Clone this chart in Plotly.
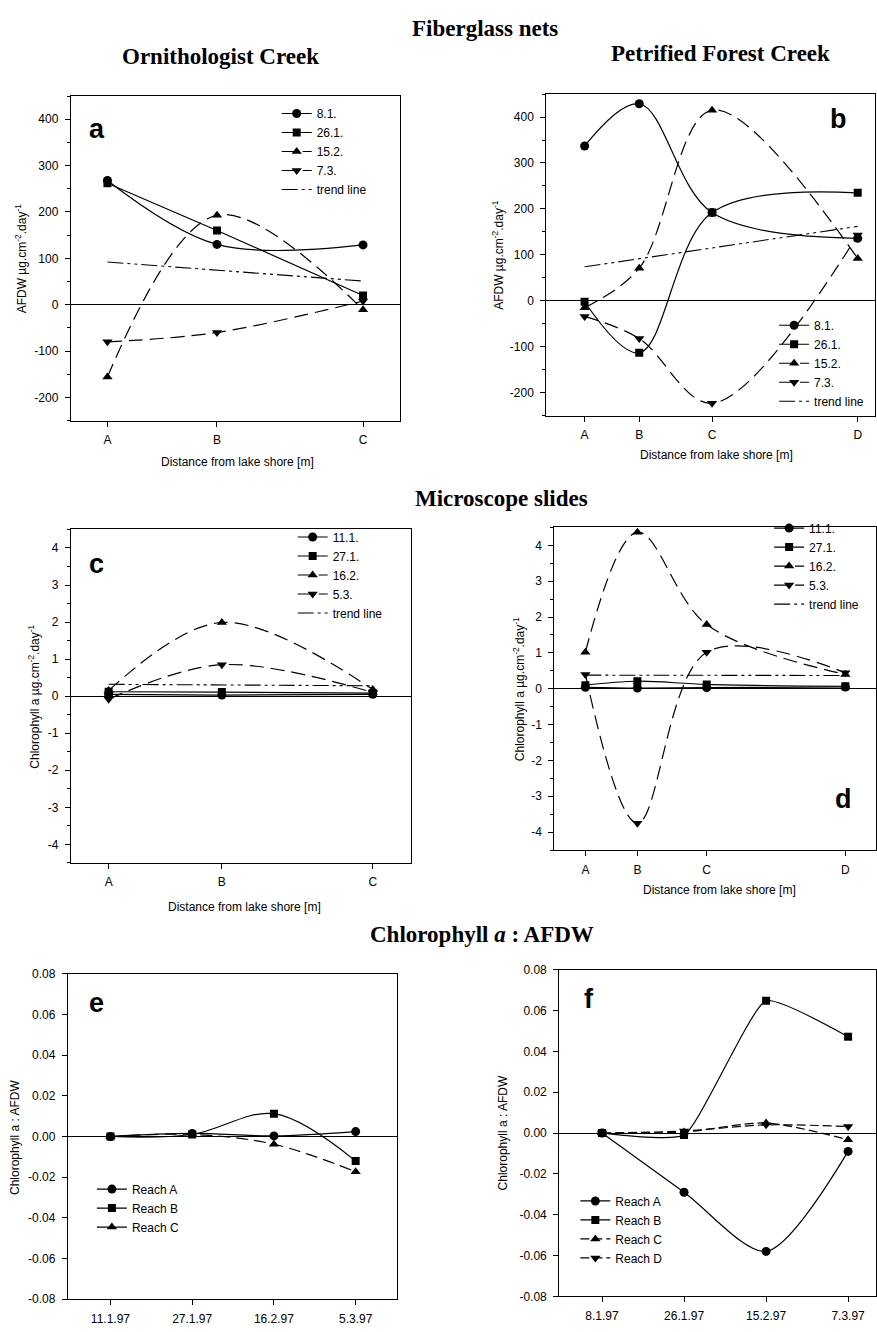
import plotly.graph_objects as go

# ---------------- data ----------------
ornith_sites = ["A", "B", "C"]
ornith_dist = [1, 4, 8]
petrif_sites = ["A", "B", "C", "D"]
petrif_dist = [1, 4, 8, 16]

afdw_dates = ["8.1.", "26.1.", "15.2.", "7.3."]
afdw_ornith_8_1 = [268, 130, 129]
afdw_ornith_26_1 = [262, 160, 20]
afdw_ornith_15_2 = [-156, 193, -11]
afdw_ornith_7_3 = [-80, -60, 8]
afdw_ornith_trend = [92, 51]

afdw_petrif_8_1 = [337, 429, 192, 136]
afdw_petrif_26_1 = [-2, -113, 192, 235]
afdw_petrif_15_2 = [-15, 71, 415, 92]
afdw_petrif_7_3 = [-34, -82, -223, 143]
afdw_petrif_trend = [74, 162]

chl_dates = ["11.1.", "27.1.", "16.2.", "5.3."]
chl_ornith_11_1 = [0.05, 0.03, 0.05]
chl_ornith_27_1 = [0.12, 0.11, 0.08]
chl_ornith_16_2 = [0.15, 1.99, 0.18]
chl_ornith_5_3 = [-0.08, 0.85, 0.10]
chl_ornith_trend = [0.32, 0.28]

chl_petrif_11_1 = [0.04, 0.02, 0.03, 0.05]
chl_petrif_27_1 = [0.10, 0.21, 0.12, 0.07]
chl_petrif_16_2 = [1.02, 4.37, 1.79, 0.40]
chl_petrif_5_3 = [0.40, -3.75, 1.02, 0.45]
chl_petrif_trend = [0.38, 0.37]

ratio_ornith_dates = ["11.1.97", "27.1.97", "16.2.97", "5.3.97"]
ratio_ornith_reach_a = [0.000, 0.0015, 0.0003, 0.0024]
ratio_ornith_reach_b = [0.000, 0.0010, 0.0112, -0.0121]
ratio_ornith_reach_c = [0.000, 0.0010, -0.0038, -0.0173]

ratio_petrif_dates = ["8.1.97", "26.1.97", "15.2.97", "7.3.97"]
ratio_petrif_reach_a = [0.000, -0.029, -0.058, -0.009]
ratio_petrif_reach_b = [0.000, -0.001, 0.0648, 0.0472]
ratio_petrif_reach_c = [0.000, 0.0005, 0.0049, -0.0033]
ratio_petrif_reach_d = [0.000, 0.0010, 0.0040, 0.0032]

afdw_ticks = [-200, -100, 0, 100, 200, 300, 400]
chl_ticks = [-4, -3, -2, -1, 0, 1, 2, 3, 4]
ratio_ticks = [-0.08, -0.06, -0.04, -0.02, 0.0, 0.02, 0.04, 0.06, 0.08]

# ---------------- styling ----------------
W, H = 877, 1332
SANS = "Liberation Sans, Arial, sans-serif"
SERIF = "Liberation Serif, Times New Roman, serif"
SOLID = "solid"
LONGDASH = "14px,7px"
MEDDASH = "9px,4px"
TREND = "16px,4px,3px,4px,3px,4px"

def px(x):
    return x / W

def py(y):
    return 1 - y / H

fig = go.Figure()

def add_line(ax, x, y, name, symbol, dash, legend, size=8, smooth=1.0):
    fig.add_trace(go.Scatter(
        x=x, y=y, name=name, mode="lines+markers",
        line=dict(color="black", width=1.2, shape="spline", smoothing=smooth, dash=dash),
        marker=dict(symbol=symbol, size=size, color="black"),
        xaxis="x" + ax, yaxis="y" + ax, legend=legend,
    ))

def add_trend(ax, dist, vals, legend):
    fig.add_trace(go.Scatter(
        x=[dist[0], dist[-1]], y=vals, name="trend line", mode="lines",
        line=dict(color="black", width=1.1, dash=TREND),
        xaxis="x" + ax, yaxis="y" + ax, legend=legend,
    ))

# panel a
add_line("", ornith_dist, afdw_ornith_8_1, afdw_dates[0], "circle", SOLID, "legend", 9)
add_line("", ornith_dist, afdw_ornith_26_1, afdw_dates[1], "square", SOLID, "legend")
add_line("", ornith_dist, afdw_ornith_15_2, afdw_dates[2], "triangle-up", LONGDASH, "legend", 9)
add_line("", ornith_dist, afdw_ornith_7_3, afdw_dates[3], "triangle-down", LONGDASH, "legend", 9)
add_trend("", ornith_dist, afdw_ornith_trend, "legend")

# panel b
add_line("2", petrif_dist, afdw_petrif_8_1, afdw_dates[0], "circle", SOLID, "legend2", 9)
add_line("2", petrif_dist, afdw_petrif_26_1, afdw_dates[1], "square", SOLID, "legend2")
add_line("2", petrif_dist, afdw_petrif_15_2, afdw_dates[2], "triangle-up", LONGDASH, "legend2", 9)
add_line("2", petrif_dist, afdw_petrif_7_3, afdw_dates[3], "triangle-down", LONGDASH, "legend2", 9)
add_trend("2", petrif_dist, afdw_petrif_trend, "legend2")

# panel c
add_line("3", ornith_dist, chl_ornith_11_1, chl_dates[0], "circle", SOLID, "legend3", 9)
add_line("3", ornith_dist, chl_ornith_27_1, chl_dates[1], "square", SOLID, "legend3")
add_line("3", ornith_dist, chl_ornith_16_2, chl_dates[2], "triangle-up", LONGDASH, "legend3", 9)
add_line("3", ornith_dist, chl_ornith_5_3, chl_dates[3], "triangle-down", LONGDASH, "legend3", 9)
add_trend("3", ornith_dist, chl_ornith_trend, "legend3")

# panel d
add_line("4", petrif_dist, chl_petrif_11_1, chl_dates[0], "circle", SOLID, "legend4", 9)
add_line("4", petrif_dist, chl_petrif_27_1, chl_dates[1], "square", SOLID, "legend4")
add_line("4", petrif_dist, chl_petrif_16_2, chl_dates[2], "triangle-up", LONGDASH, "legend4", 9)
add_line("4", petrif_dist, chl_petrif_5_3, chl_dates[3], "triangle-down", LONGDASH, "legend4", 9)
add_trend("4", petrif_dist, chl_petrif_trend, "legend4")

# panel e
add_line("5", ratio_ornith_dates, ratio_ornith_reach_a, "Reach A", "circle", SOLID, "legend5", 9)
add_line("5", ratio_ornith_dates, ratio_ornith_reach_b, "Reach B", "square", SOLID, "legend5")
add_line("5", ratio_ornith_dates, ratio_ornith_reach_c, "Reach C", "triangle-up", "12px,6px", "legend5", 9)

# panel f
add_line("6", ratio_petrif_dates, ratio_petrif_reach_a, "Reach A", "circle", SOLID, "legend6", 9, 0.8)
add_line("6", ratio_petrif_dates, ratio_petrif_reach_b, "Reach B", "square", SOLID, "legend6", 8, 0.45)
add_line("6", ratio_petrif_dates, ratio_petrif_reach_c, "Reach C", "triangle-up", MEDDASH, "legend6", 9, 0.8)
add_line("6", ratio_petrif_dates, ratio_petrif_reach_d, "Reach D", "triangle-down", MEDDASH, "legend6", 9, 0.8)

# ---------------- axes ----------------
tickfont = dict(family=SANS, size=12, color="black")

def xaxis(domain, anchor, rng, tickvals=None, ticktext=None, categorical=False):
    d = dict(domain=domain, anchor=anchor, range=rng, showline=True, linecolor="black",
             linewidth=1.3, mirror=True, ticks="outside", ticklen=5, tickcolor="black",
             tickwidth=1, tickfont=tickfont, showgrid=False, zeroline=False,
             ticklabelstandoff=3)
    if categorical:
        d["type"] = "category"
    else:
        d["tickmode"] = "array"
        d["tickvals"] = tickvals
        d["ticktext"] = ticktext
    return d

def yaxis(domain, anchor, rng, tickvals, ticktext, minor_dtick=None):
    d = dict(domain=domain, anchor=anchor, range=rng, showline=True, linecolor="black",
             linewidth=1.3, mirror=True, ticks="outside", ticklen=5, tickcolor="black",
             tickwidth=1, tickfont=tickfont, showgrid=False, zeroline=True,
             zerolinecolor="black", zerolinewidth=1, tickmode="array",
             tickvals=tickvals, ticktext=ticktext, ticklabelstandoff=4)
    if minor_dtick:
        d["minor"] = dict(tickmode="linear", tick0=0, dtick=minor_dtick, ticks="outside",
                          ticklen=3, tickcolor="black", showgrid=False)
    return d

afdw_text = [str(v) for v in afdw_ticks]
chl_text = [str(v) for v in chl_ticks]
ratio_text = [f"{v:.2f}" for v in ratio_ticks]

layout_axes = dict(
    xaxis=xaxis([px(71), px(400)], "y", [0, 9], ornith_dist, ornith_sites),
    yaxis=yaxis([py(418), py(90)], "x", [-250, 450], afdw_ticks, afdw_text, 50),
    xaxis2=xaxis([px(547), px(876)], "y2", [-1.1, 16.95], petrif_dist, petrif_sites),
    yaxis2=yaxis([py(413), py(88)], "x2", [-250, 450], afdw_ticks, afdw_text, 50),
    xaxis3=xaxis([px(71), px(411)], "y3", [0, 9], ornith_dist, ornith_sites),
    yaxis3=yaxis([py(865), py(528)], "x3", [-4.5, 4.5], chl_ticks, chl_text, 0.5),
    xaxis4=xaxis([px(555), 1.0], "y4", [-0.79, 17.77], petrif_dist, petrif_sites),
    yaxis4=yaxis([py(852), py(526)], "x4", [-4.5, 4.5], chl_ticks, chl_text, 0.5),
    xaxis5=xaxis([px(68), px(397)], "y5", [-0.52, 3.5], categorical=True),
    yaxis5=yaxis([py(1306), py(977)], "x5", [-0.08, 0.08], ratio_ticks, ratio_text),
    xaxis6=xaxis([px(560), 1.0], "y6", [-0.52, 3.34], categorical=True),
    yaxis6=yaxis([py(1303), py(973)], "x6", [-0.08, 0.08], ratio_ticks, ratio_text),
)

def legend(xp, yp):
    return dict(x=px(xp), y=py(yp), xanchor="left", yanchor="top",
                bgcolor="rgba(0,0,0,0)", borderwidth=0, tracegroupgap=0,
                font=dict(family=SANS, size=12, color="black"), itemwidth=30)

# ---------------- annotations ----------------
ann = []

def text(x, y, s, size, family, angle=0):
    ann.append(dict(x=px(x), y=py(y), xref="paper", yref="paper", text=s,
                    showarrow=False, xanchor="center", yanchor="middle",
                    textangle=angle, font=dict(family=family, size=size, color="black")))

text(486, 22, "<b>Fiberglass nets</b>", 23, SERIF)
text(221, 50, "<b>Ornithologist Creek</b>", 23, SERIF)
text(721, 47, "<b>Petrified Forest Creek</b>", 23, SERIF)
text(502, 497, "<b>Microscope slides</b>", 23, SERIF)
text(483, 937, "<b>Chlorophyll <i>a</i> : AFDW</b>", 23, SERIF)

text(97, 123, "<b>a</b>", 27, SANS)
text(839, 113, "<b>b</b>", 27, SANS)
text(97, 563, "<b>c</b>", 27, SANS)
text(844, 800, "<b>d</b>", 27, SANS)
text(97, 1007, "<b>e</b>", 27, SANS)
text(590, 1003, "<b>f</b>", 27, SANS)

xt = "Distance from lake shore [m]"
text(238, 460, xt, 12, SANS)
text(717, 453, xt, 12, SANS)
text(245, 910, xt, 12, SANS)
text(720, 892, xt, 12, SANS)

afdw_y = "AFDW µg.cm<sup>-2</sup>.day<sup>-1</sup>"
chl_y = "Chlorophyll a µg.cm<sup>-2</sup>.day<sup>-1</sup>"
ratio_y = "Chlorophyll a : AFDW"
text(21, 254, afdw_y, 12, SANS, -90)
text(499, 250, afdw_y, 12, SANS, -90)
text(34, 697, chl_y, 12, SANS, -90)
text(519, 689, chl_y, 12, SANS, -90)
text(15, 1142, ratio_y, 12, SANS, -90)
text(504, 1138, ratio_y, 12, SANS, -90)

fig.update_layout(
    width=W, height=H, margin=dict(l=0, r=0, t=0, b=0),
    paper_bgcolor="white", plot_bgcolor="white",
    font=dict(family=SANS, color="black"),
    legend=legend(277, 93),
    legend2=legend(775, 307),
    legend3=legend(293, 521),
    legend4=legend(770, 512),
    legend5=legend(92, 1180),
    legend6=legend(576, 1192),
    annotations=ann,
    **layout_axes,
)

fig.write_html(
    "out.html",
    config={"displayModeBar": False},
    post_script="document.body.style.margin='0';document.body.style.overflow='hidden';",
)
